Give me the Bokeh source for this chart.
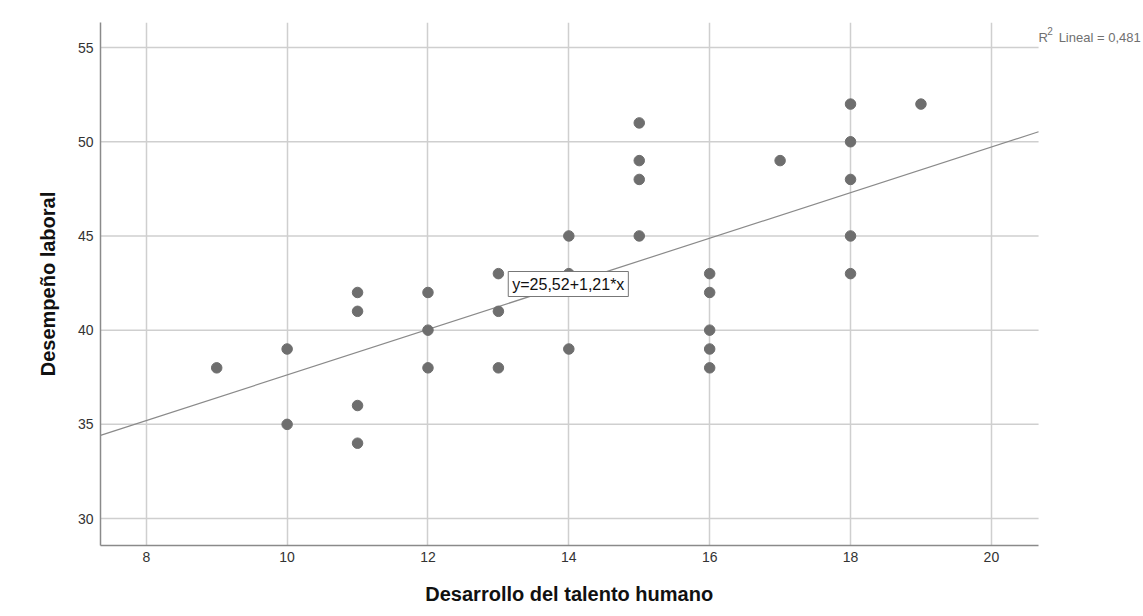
from bokeh.plotting import figure
from bokeh.models import Label, FixedTicker, Range1d
from bokeh.embed import file_html
from bokeh.resources import INLINE

# Data
x_vals = [9, 10, 10, 11, 11, 11, 11, 12, 12, 12, 13, 13, 13, 14, 14, 14,
          15, 15, 15, 15, 16, 16, 16, 16, 16, 17, 18, 18, 18, 18, 18, 19]
y_vals = [38, 39, 35, 42, 41, 36, 34, 42, 40, 38, 43, 41, 38, 45, 43, 39,
          51, 49, 48, 45, 43, 42, 40, 39, 38, 49, 52, 50, 48, 45, 43, 52]
intercept = 25.52
slope = 1.21
x_ticks = [8, 10, 12, 14, 16, 18, 20]
y_ticks = [30, 35, 40, 45, 50, 55]
equation_text = "y=25,52+1,21*x"
r2_text = "Lineal = 0,481"
x_title = "Desarrollo del talento humano"
y_title = "Desempeño laboral"

FONT = "Liberation Sans"

X_MIN, X_MAX = 7.35, 20.67      # extent of the plotted axes
X_CANVAS_END = 22.16            # right edge of the page (room for R² note)

p = figure(width=1143, height=616, output_backend="svg", toolbar_location=None,
           x_range=Range1d(X_MIN, X_CANVAS_END), y_range=Range1d(28.57, 56.33),
           min_border_left=100, min_border_right=0, min_border_top=22,
           min_border_bottom=71)
p.outline_line_color = None
p.background_fill_color = "white"
p.border_fill_color = "white"

# grid: vertical lines via grid, horizontal lines drawn bounded to the axes box
p.xgrid.grid_line_color = "#cfcfcf"
p.xgrid.grid_line_width = 1.5
p.xgrid.bounds = (X_MIN, X_MAX)
p.ygrid.visible = False
p.segment(x0=[X_MIN] * len(y_ticks), y0=y_ticks, x1=[X_MAX] * len(y_ticks),
          y1=y_ticks, line_color="#cfcfcf", line_width=1.5)

p.xaxis.ticker = FixedTicker(ticks=x_ticks)
p.yaxis.ticker = FixedTicker(ticks=y_ticks)
p.xaxis.bounds = (X_MIN, X_MAX)

for ax in (p.xaxis, p.yaxis):
    ax.axis_line_color = "#8a8a8a"
    ax.axis_line_width = 1.5
    ax.major_tick_line_color = None
    ax.minor_tick_line_color = None
    ax.major_tick_out = 0
    ax.major_tick_in = 0
    ax.major_label_text_font = FONT
    ax.major_label_text_font_size = "14px"
    ax.major_label_text_color = "#333333"
    ax.axis_label_text_font = FONT
    ax.axis_label_text_font_style = "bold"
    ax.axis_label_text_font_size = "20px"
    ax.axis_label_text_color = "#111111"

# the frame runs to the page edge, so pad the x title with no-break spaces
# to keep it centred under the axes box
p.xaxis.axis_label = x_title + "\u00a0" * 19
p.yaxis.axis_label = y_title
p.xaxis.major_label_standoff = 6
p.yaxis.major_label_standoff = 7
p.xaxis.axis_label_standoff = 18
p.yaxis.axis_label_standoff = 16

# regression line
lx = [X_MIN, X_MAX]
ly = [intercept + slope * v for v in lx]
p.line(lx, ly, line_color="#8a8a8a", line_width=1.2)

# points
p.scatter(x_vals, y_vals, size=10.5, fill_color="#6e6e6e", line_color="#6e6e6e")

# equation label
p.add_layout(Label(x=13.14, y=42.45, text=equation_text, text_font=FONT,
                   text_font_size="16px", text_color="#111111",
                   text_baseline="middle", background_fill_color="white",
                   border_line_color="#777777", border_line_width=1,
                   padding=4))

# R^2 note, top right
p.add_layout(Label(x=20.67, y=55.56, text="R", text_font=FONT,
                   text_font_size="13px", text_color="#707070",
                   text_baseline="alphabetic"))
p.add_layout(Label(x=20.795, y=55.86, text="2", text_font=FONT,
                   text_font_size="10px", text_color="#707070",
                   text_baseline="alphabetic"))
p.add_layout(Label(x=20.955, y=55.56, text=r2_text, text_font=FONT,
                   text_font_size="13px", text_color="#707070",
                   text_baseline="alphabetic"))

open("out.html", "w").write(file_html(p, INLINE))
